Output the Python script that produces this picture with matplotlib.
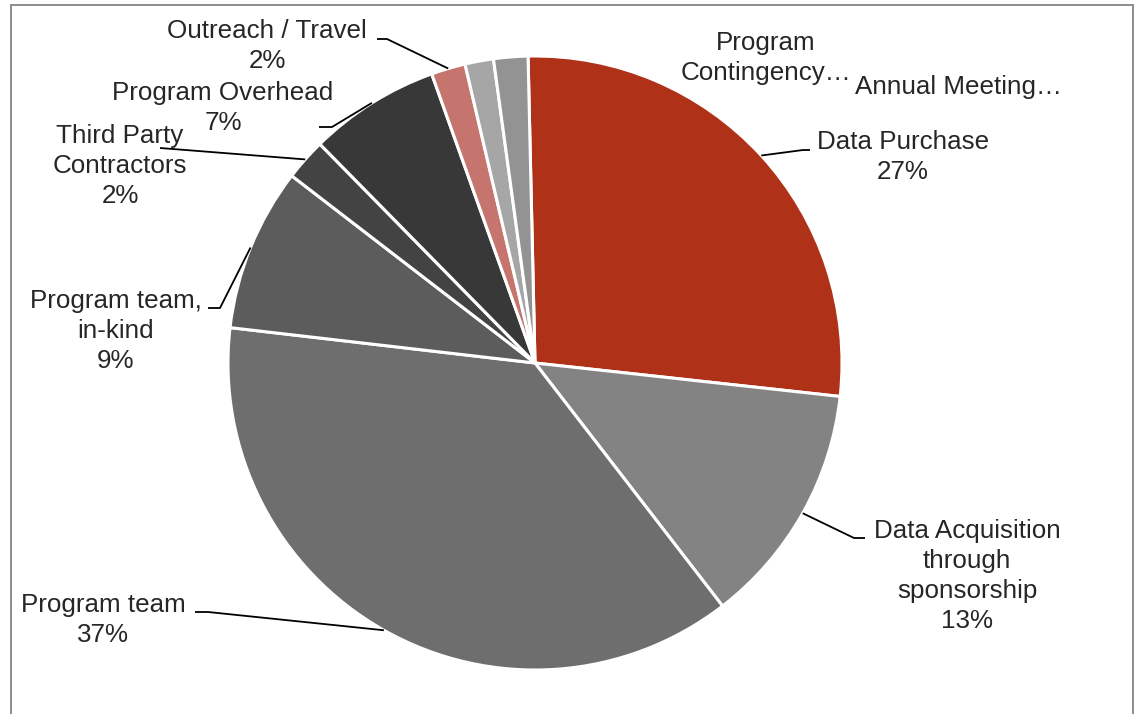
import numpy as np
import matplotlib
matplotlib.use("Agg")
import matplotlib.pyplot as plt
from matplotlib.patches import Rectangle

plt.rcParams['font.family'] = ['Liberation Sans', 'DejaVu Sans']

# slice data, clockwise from 12 o'clock
names = ["Data Purchase", "Data Acquisition\nthrough\nsponsorship", "Program team",
         "Program team,\nin-kind", "Third Party\nContractors", "Program Overhead",
         "Outreach / Travel", "Annual Meeting", "Program Contingency"]
shares = [27.1, 12.8, 37.3, 8.6, 2.2, 6.9, 1.8, 1.5, 1.8]
colors = ['#ae3118', '#838383', '#6e6e6e', '#5c5c5c', '#434343', '#383838',
          '#c5756d', '#a6a6a6', '#939393']

W, H = 1135, 714
fig = plt.figure(figsize=(W / 100, H / 100), dpi=100)
ax = fig.add_axes([0, 0, 1, 1])

cx, cy, rad = 535, H - 363, 307
wedges, _ = ax.pie(shares, colors=colors, startangle=91.3, counterclock=False,
                   center=(cx, cy), radius=rad,
                   wedgeprops=dict(edgecolor='white', linewidth=2.2))

ax.set_xlim(0, W)
ax.set_ylim(0, H)
ax.set_aspect('equal')
ax.axis('off')

txt_col = '#262626'
fs = 18.7

def y(p):
    return H - p

# label centre (px) and leader elbow points (px), None = no leader
label_pos = [(903, 157), (967, 576), (103, 620), (116, 331), (120, 166),
             (223, 108), (267, 46), (958, 87), (766, 58)]
elbows = [[(810, 150), (803, 150)],
          [(865, 538), (854, 538)],
          [(195, 612), (208, 612)],
          [(208, 308), (220, 308)],
          [(160, 148)],
          [(319, 127), (332, 127)],
          [(377, 39), (387, 39)],
          None, None]

for i, w in enumerate(wedges):
    pct = round(shares[i] / sum(shares) * 100)
    if elbows[i] is None:
        lab = names[i] + "\u2026"
        if names[i] == "Program Contingency":
            lab = "Program\nContingency\u2026"
    else:
        lab = "%s\n%d%%" % (names[i], pct)
    lx, ly = label_pos[i]
    ax.text(lx, y(ly), lab, ha='center', va='center', fontsize=fs,
            color=txt_col, linespacing=1.32)
    if elbows[i] is not None:
        mid = np.deg2rad((w.theta1 + w.theta2) / 2)
        ex = cx + rad * np.cos(mid)
        ey = cy + rad * np.sin(mid)
        xs = [p[0] for p in elbows[i]] + [ex]
        ys = [y(p[1]) for p in elbows[i]] + [ey]
        ax.plot(xs, ys, color='black', lw=1.3, solid_capstyle='butt')

# chart frame (bottom edge is cut off)
ax.add_patch(Rectangle((10.5, -20), 1122, y(5) + 20, fill=False,
                       edgecolor='#8c8c8c', lw=1.4, clip_on=False))

fig.savefig("out.png", dpi=100)
